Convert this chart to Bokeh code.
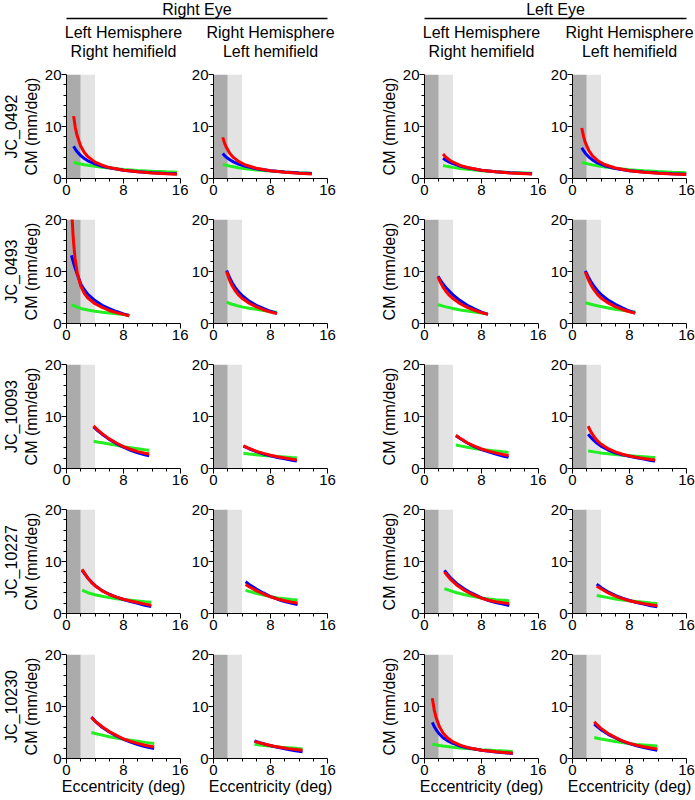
from bokeh.plotting import figure
from bokeh.layouts import column, row
from bokeh.models import Range1d, FixedTicker, BoxAnnotation, Title, ColumnDataSource
from bokeh.core.properties import value
from bokeh.embed import file_html
from bokeh.resources import INLINE

FONT = "Liberation Sans"

# ---------------- labels ----------------
subjects = ["JC_0492", "JC_0493", "JC_10093", "JC_10227", "JC_10230"]
eye_labels = ["Right Eye", "Left Eye"]
hemi_top = ["Left Hemisphere", "Right Hemisphere", "Left Hemisphere", "Right Hemisphere"]
hemi_bottom = ["Right hemifield", "Left hemifield", "Right hemifield", "Left hemifield"]
x_label = "Eccentricity (deg)"
y_label = "CM (mm/deg)"
x_ticks = [0, 8, 16]
x_minor = [2, 4, 6, 10, 12, 14]
y_ticks = [0, 10, 20]
y_minor = [2, 4, 6, 8, 12, 14, 16, 18]
x_lim = [0, 16]
y_lim = [0, 20]
fovea_edges = [0, 2, 4]   # dark band 0-2 deg, light band 2-4 deg

# ---------------- data (eccentricity, red, blue, green) ----------------
# JC_0492
ecc_1_1 = [1.0, 1.25, 1.5, 2, 2.5, 3, 4, 5, 6, 8, 10, 12, 14, 15.5]
red_1_1 = [12.0, 9.7, 8.2, 6.2, 5.0, 4.2, 3.15, 2.55, 2.1, 1.6, 1.3, 1.07, 0.92, 0.83]
blu_1_1 = [6.2, 5.6, 5.15, 4.4, 3.85, 3.4, 2.8, 2.35, 2.05, 1.6, 1.32, 1.12, 0.98, 0.89]
grn_1_1 = [3.1, 3.0, 2.95, 2.8, 2.65, 2.55, 2.35, 2.15, 2.0, 1.75, 1.55, 1.4, 1.28, 1.2]

ecc_1_2 = [1.3, 1.55, 1.8, 2.3, 2.8, 3.5, 4.5, 6, 8, 10, 12, 13.8]
red_1_2 = [7.9, 6.8, 6.0, 4.8, 4.05, 3.3, 2.6, 1.98, 1.5, 1.21, 1.01, 0.88]
blu_1_2 = [4.8, 4.4, 4.1, 3.6, 3.2, 2.78, 2.34, 1.88, 1.5, 1.24, 1.06, 0.94]
grn_1_2 = [2.7, 2.62, 2.54, 2.38, 2.25, 2.08, 1.89, 1.65, 1.42, 1.24, 1.1, 1.0]

ecc_1_3 = [2.6, 3, 3.5, 4, 5, 6, 8, 10, 12, 15.1]
red_1_3 = [4.7, 4.1, 3.55, 3.13, 2.52, 2.12, 1.6, 1.29, 1.07, 0.86]
blu_1_3 = [3.9, 3.53, 3.15, 2.85, 2.39, 2.05, 1.6, 1.32, 1.12, 0.9]
grn_1_3 = [2.5, 2.38, 2.25, 2.14, 1.94, 1.77, 1.51, 1.32, 1.17, 1.0]

ecc_1_4 = [1.3, 1.55, 1.8, 2.3, 2.8, 3.5, 4.5, 6, 8, 10, 12, 14, 16]
red_1_4 = [9.7, 8.1, 6.9, 5.35, 4.37, 3.47, 2.69, 2.01, 1.5, 1.2, 1.0, 0.85, 0.75]
blu_1_4 = [5.9, 5.34, 4.86, 4.12, 3.57, 3.01, 2.46, 1.93, 1.5, 1.23, 1.04, 0.9, 0.8]
grn_1_4 = [3.1, 3.01, 2.93, 2.76, 2.62, 2.44, 2.23, 1.96, 1.7, 1.5, 1.34, 1.21, 1.1]

# JC_0493
ecc_2_1 = [0.7, 0.8, 0.9, 1.0, 1.2, 1.5, 2, 2.5, 3, 4, 5, 6, 7, 8, 8.8]
red_2_1 = [23.0, 20.0, 17.5, 15.5, 12.5, 9.8, 7.2, 5.8, 4.9, 3.8, 3.1, 2.5, 2.1, 1.75, 1.5]
blu_2_1 = [13.1, 12.6, 12.1, 11.6, 10.7, 9.5, 7.6, 6.5, 5.6, 4.4, 3.5, 2.85, 2.3, 1.85, 1.5]
grn_2_1 = [3.6, 3.55, 3.5, 3.45, 3.35, 3.15, 2.9, 2.75, 2.6, 2.35, 2.15, 2.0, 1.85, 1.72, 1.62]

ecc_2_2 = [1.85, 2.2, 2.6, 3, 3.5, 4, 5, 6, 7, 8, 8.9]
red_2_2 = [10.0, 8.5, 7.3, 6.4, 5.5, 4.85, 3.9, 3.2, 2.65, 2.2, 1.9]
blu_2_2 = [10.2, 9.0, 7.9, 7.0, 6.1, 5.4, 4.3, 3.5, 2.9, 2.35, 1.95]
grn_2_2 = [4.1, 3.9, 3.7, 3.55, 3.35, 3.2, 2.95, 2.75, 2.5, 2.3, 2.1]

ecc_2_3 = [1.9, 2.2, 2.6, 3, 3.5, 4, 5, 6, 7, 8, 8.9]
red_2_3 = [9.0, 8.0, 7.0, 6.2, 5.4, 4.8, 3.8, 3.1, 2.55, 2.1, 1.75]
blu_2_3 = [9.1, 8.4, 7.6, 6.9, 6.2, 5.5, 4.4, 3.5, 2.8, 2.2, 1.75]
grn_2_3 = [3.65, 3.5, 3.35, 3.2, 3.05, 2.9, 2.6, 2.4, 2.2, 2.0, 1.85]

ecc_2_4 = [1.8, 2.2, 2.6, 3, 3.5, 4, 5, 6, 7, 8, 8.8]
red_2_4 = [9.9, 8.5, 7.4, 6.5, 5.6, 4.9, 3.95, 3.25, 2.7, 2.25, 2.0]
blu_2_4 = [10.1, 9.0, 8.0, 7.2, 6.3, 5.6, 4.5, 3.7, 3.0, 2.4, 2.0]
grn_2_4 = [4.0, 3.85, 3.7, 3.55, 3.4, 3.25, 3.0, 2.75, 2.55, 2.35, 2.2]

# JC_10093
ecc_3_1 = [3.8, 4.3, 5, 6, 7, 8, 9, 10, 11, 11.6]
red_3_1 = [8.2, 7.5, 6.7, 5.7, 4.9, 4.2, 3.7, 3.25, 2.95, 2.8]
blu_3_1 = [8.0, 7.35, 6.6, 5.6, 4.8, 4.1, 3.5, 3.0, 2.65, 2.45]
grn_3_1 = [5.25, 5.1, 4.95, 4.7, 4.45, 4.2, 4.0, 3.8, 3.6, 3.5]

ecc_3_2 = [4.2, 5, 6, 7, 8, 9, 10, 11, 11.7]
red_3_2 = [4.35, 3.85, 3.3, 2.9, 2.55, 2.25, 2.0, 1.8, 1.65]
blu_3_2 = [4.3, 3.8, 3.25, 2.8, 2.45, 2.1, 1.85, 1.6, 1.45]
grn_3_2 = [2.95, 2.8, 2.65, 2.5, 2.4, 2.3, 2.2, 2.1, 2.05]

ecc_3_3 = [4.4, 5, 6, 7, 8, 9, 10, 11, 11.8]
red_3_3 = [6.4, 5.8, 4.95, 4.3, 3.75, 3.35, 3.0, 2.7, 2.5]
blu_3_3 = [6.3, 5.75, 4.9, 4.2, 3.65, 3.2, 2.8, 2.4, 2.15]
grn_3_3 = [4.5, 4.35, 4.1, 3.85, 3.65, 3.5, 3.35, 3.2, 3.1]

ecc_3_4 = [2.2, 2.5, 3, 3.5, 4, 5, 6, 7, 8, 9, 10, 11, 11.6]
red_3_4 = [8.15, 7.25, 6.15, 5.3, 4.7, 3.8, 3.2, 2.74, 2.4, 2.14, 1.93, 1.75, 1.67]
blu_3_4 = [6.6, 6.1, 5.4, 4.8, 4.3, 3.55, 3.0, 2.65, 2.35, 2.05, 1.8, 1.55, 1.42]
grn_3_4 = [3.4, 3.3, 3.2, 3.1, 3.0, 2.85, 2.7, 2.55, 2.45, 2.35, 2.25, 2.15, 2.1]

# JC_10227
ecc_4_1 = [2.2, 2.5, 3, 3.5, 4, 5, 6, 7, 8, 9, 10, 11, 11.9]
red_4_1 = [8.5, 7.8, 6.8, 6.0, 5.35, 4.35, 3.65, 3.15, 2.75, 2.4, 2.1, 1.8, 1.6]
blu_4_1 = [8.3, 7.7, 6.8, 6.05, 5.4, 4.4, 3.7, 3.15, 2.7, 2.3, 1.95, 1.6, 1.35]
grn_4_1 = [4.5, 4.3, 4.0, 3.8, 3.6, 3.3, 3.05, 2.85, 2.7, 2.55, 2.4, 2.25, 2.15]

ecc_4_2 = [4.5, 5, 6, 7, 8, 9, 10, 11, 11.8]
red_4_2 = [5.6, 5.15, 4.4, 3.75, 3.2, 2.8, 2.45, 2.15, 2.0]
blu_4_2 = [6.1, 5.6, 4.7, 3.95, 3.25, 2.75, 2.3, 1.95, 1.7]
grn_4_2 = [4.45, 4.25, 3.9, 3.55, 3.25, 3.0, 2.85, 2.7, 2.6]

ecc_4_3 = [2.8, 3.2, 3.7, 4.5, 5.5, 6.5, 8, 9, 10, 11, 11.9]
red_4_3 = [8.0, 7.3, 6.5, 5.5, 4.55, 3.8, 2.95, 2.55, 2.25, 2.05, 1.9]
blu_4_3 = [8.3, 7.6, 6.8, 5.8, 4.8, 4.0, 3.0, 2.5, 2.1, 1.8, 1.55]
grn_4_3 = [4.8, 4.6, 4.35, 4.0, 3.65, 3.35, 3.0, 2.8, 2.65, 2.55, 2.45]

ecc_4_4 = [3.4, 4, 5, 6, 7, 8, 9, 10, 11, 11.9]
red_4_4 = [5.25, 4.75, 3.95, 3.35, 2.85, 2.45, 2.15, 1.9, 1.7, 1.5]
blu_4_4 = [5.65, 5.0, 4.15, 3.5, 2.95, 2.5, 2.1, 1.8, 1.5, 1.3]
grn_4_4 = [3.45, 3.3, 3.05, 2.8, 2.6, 2.45, 2.3, 2.15, 2.0, 1.9]

# JC_10230
ecc_5_1 = [3.5, 4, 5, 6, 7, 8, 9, 10, 11, 12.3]
red_5_1 = [7.9, 7.2, 6.1, 5.2, 4.45, 3.75, 3.3, 2.9, 2.55, 2.2]
blu_5_1 = [8.0, 7.2, 6.0, 5.1, 4.35, 3.7, 3.15, 2.7, 2.3, 1.9]
grn_5_1 = [5.0, 4.8, 4.5, 4.2, 3.95, 3.7, 3.5, 3.3, 3.1, 2.9]

ecc_5_2 = [5.75, 6.5, 7.5, 8.5, 9.5, 10.5, 11.5, 12.5]
red_5_2 = [3.3, 3.0, 2.65, 2.35, 2.1, 1.9, 1.75, 1.6]
blu_5_2 = [3.4, 3.05, 2.65, 2.3, 2.0, 1.75, 1.5, 1.3]
grn_5_2 = [2.75, 2.6, 2.45, 2.3, 2.15, 2.05, 1.95, 1.85]

ecc_5_3 = [1.1, 1.35, 1.6, 2.1, 2.6, 3.2, 4, 5, 6, 8, 10, 12.4]
red_5_3 = [11.6, 9.45, 8.0, 6.1, 4.9, 4.0, 3.2, 2.56, 2.13, 1.6, 1.28, 1.03]
blu_5_3 = [6.95, 6.2, 5.6, 4.7, 4.0, 3.45, 2.9, 2.4, 2.06, 1.6, 1.25, 0.95]
grn_5_3 = [2.75, 2.69, 2.63, 2.52, 2.42, 2.31, 2.17, 2.03, 1.9, 1.69, 1.52, 1.35]

ecc_5_4 = [3.05, 3.5, 4, 5, 6, 7, 8, 9, 10, 11, 11.9]
red_5_4 = [7.05, 6.4, 5.8, 4.8, 4.05, 3.4, 2.9, 2.55, 2.25, 2.0, 1.85]
blu_5_4 = [6.6, 6.1, 5.55, 4.65, 3.95, 3.35, 2.85, 2.45, 2.1, 1.8, 1.6]
grn_5_4 = [4.05, 3.9, 3.75, 3.5, 3.25, 3.05, 2.85, 2.7, 2.6, 2.5, 2.4]

panels = {
    (1, 1): (ecc_1_1, red_1_1, blu_1_1, grn_1_1), (1, 2): (ecc_1_2, red_1_2, blu_1_2, grn_1_2),
    (1, 3): (ecc_1_3, red_1_3, blu_1_3, grn_1_3), (1, 4): (ecc_1_4, red_1_4, blu_1_4, grn_1_4),
    (2, 1): (ecc_2_1, red_2_1, blu_2_1, grn_2_1), (2, 2): (ecc_2_2, red_2_2, blu_2_2, grn_2_2),
    (2, 3): (ecc_2_3, red_2_3, blu_2_3, grn_2_3), (2, 4): (ecc_2_4, red_2_4, blu_2_4, grn_2_4),
    (3, 1): (ecc_3_1, red_3_1, blu_3_1, grn_3_1), (3, 2): (ecc_3_2, red_3_2, blu_3_2, grn_3_2),
    (3, 3): (ecc_3_3, red_3_3, blu_3_3, grn_3_3), (3, 4): (ecc_3_4, red_3_4, blu_3_4, grn_3_4),
    (4, 1): (ecc_4_1, red_4_1, blu_4_1, grn_4_1), (4, 2): (ecc_4_2, red_4_2, blu_4_2, grn_4_2),
    (4, 3): (ecc_4_3, red_4_3, blu_4_3, grn_4_3), (4, 4): (ecc_4_4, red_4_4, blu_4_4, grn_4_4),
    (5, 1): (ecc_5_1, red_5_1, blu_5_1, grn_5_1), (5, 2): (ecc_5_2, red_5_2, blu_5_2, grn_5_2),
    (5, 3): (ecc_5_3, red_5_3, blu_5_3, grn_5_3), (5, 4): (ecc_5_4, red_5_4, blu_5_4, grn_5_4),
}

# ---------------- styling / layout ----------------
RED, BLUE, GREEN = "#ff0000", "#0000ff", "#22ee22"
DARK, LIGHT = "#ababab", "#e3e3e3"
FRAME_W, FRAME_H = 114, 104
LEFT_B = [66, 25, 57, 26]
RIGHT_B = [8, 40, 8, 9]
TOP_B = 14
BOT_B = 27
BOT_B_LAST = 40
HDR_H = 60
TICK_FS = "15px"
LAB_FS = "16px"

fig_w = [l + FRAME_W + r for l, r in zip(LEFT_B, RIGHT_B)]
fig_x0 = [sum(fig_w[:i]) for i in range(4)]
frame_x0 = [fig_x0[i] + LEFT_B[i] for i in range(4)]
total_w = sum(fig_w)


def make_panel(r, c):
    ecc, red, blu, grn = panels[(r, c)]
    last = r == 5
    bot = BOT_B_LAST if last else BOT_B
    p = figure(width=fig_w[c - 1], height=TOP_B + FRAME_H + bot,
               x_range=Range1d(*x_lim), y_range=Range1d(*y_lim),
               min_border_left=LEFT_B[c - 1], min_border_right=RIGHT_B[c - 1],
               min_border_top=TOP_B, min_border_bottom=bot,
               toolbar_location=None, output_backend="svg")
    p.outline_line_color = None
    p.grid.visible = False
    p.add_layout(BoxAnnotation(left=fovea_edges[0], right=fovea_edges[1], fill_color=DARK,
                               fill_alpha=1.0, line_color=None, level="underlay"))
    p.add_layout(BoxAnnotation(left=fovea_edges[1], right=fovea_edges[2], fill_color=LIGHT,
                               fill_alpha=1.0, line_color=None, level="underlay"))
    src = ColumnDataSource(dict(x=ecc, red=red, blue=blu, green=grn))
    p.line("x", "green", source=src, line_color=GREEN, line_width=3)
    p.line("x", "blue", source=src, line_color=BLUE, line_width=3)
    p.line("x", "red", source=src, line_color=RED, line_width=3)

    p.xaxis.ticker = FixedTicker(ticks=x_ticks, minor_ticks=x_minor)
    p.yaxis.ticker = FixedTicker(ticks=y_ticks, minor_ticks=y_minor)
    for ax in (p.xaxis[0], p.yaxis[0]):
        ax.major_tick_in = 0
        ax.major_tick_out = 5
        ax.minor_tick_in = 0
        ax.minor_tick_out = 3
        ax.axis_line_color = "black"
        ax.major_tick_line_color = "black"
        ax.minor_tick_line_color = "black"
        ax.major_label_text_font = FONT
        ax.major_label_text_font_size = TICK_FS
        ax.major_label_text_color = "black"
        ax.major_label_standoff = 1
        ax.axis_label_text_font = FONT
        ax.axis_label_text_font_size = LAB_FS
        ax.axis_label_text_font_style = "normal"
        ax.axis_label_text_color = "black"
        ax.axis_label_standoff = 2
    p.yaxis.major_label_standoff = 0
    if c in (1, 3):
        p.yaxis.axis_label = y_label
    if last:
        p.xaxis.axis_label = x_label
        p.xaxis.axis_label_standoff = 0
    if c == 1:
        p.add_layout(Title(text=subjects[r - 1], align="center", text_font=FONT,
                           text_font_size=LAB_FS, text_font_style="normal",
                           text_color="black", standoff=0), "left")
    return p


# ---------------- header ----------------
hdr = figure(width=total_w, height=HDR_H, x_range=Range1d(0, total_w), y_range=Range1d(HDR_H, 0),
             min_border=0, toolbar_location=None, output_backend="svg",
             x_axis_location=None, y_axis_location=None)
hdr.outline_line_color = None
hdr.grid.visible = False
centers = [fx + FRAME_W / 2 for fx in frame_x0]
eye_x = [(frame_x0[0] + frame_x0[1] + FRAME_W) / 2, (frame_x0[2] + frame_x0[3] + FRAME_W) / 2]
hdr.text(x=eye_x, y=[9, 9], text=eye_labels, text_align="center", text_baseline="middle",
         text_font=value(FONT), text_font_size=LAB_FS, text_color="black")
hdr.segment(x0=[frame_x0[0], frame_x0[2]], x1=[frame_x0[1] + FRAME_W, frame_x0[3] + FRAME_W],
            y0=[18, 18], y1=[18, 18], line_color="black", line_width=1.3)
hdr.text(x=centers, y=[32] * 4, text=hemi_top, text_align="center", text_baseline="middle",
         text_font=value(FONT), text_font_size=LAB_FS, text_color="black")
hdr.text(x=centers, y=[51] * 4, text=hemi_bottom, text_align="center", text_baseline="middle",
         text_font=value(FONT), text_font_size=LAB_FS, text_color="black")

rows = [row(*[make_panel(r, c) for c in range(1, 5)], spacing=0) for r in range(1, 6)]
p = column(hdr, *rows, spacing=0)

open("out.html", "w").write(file_html(p, INLINE))
